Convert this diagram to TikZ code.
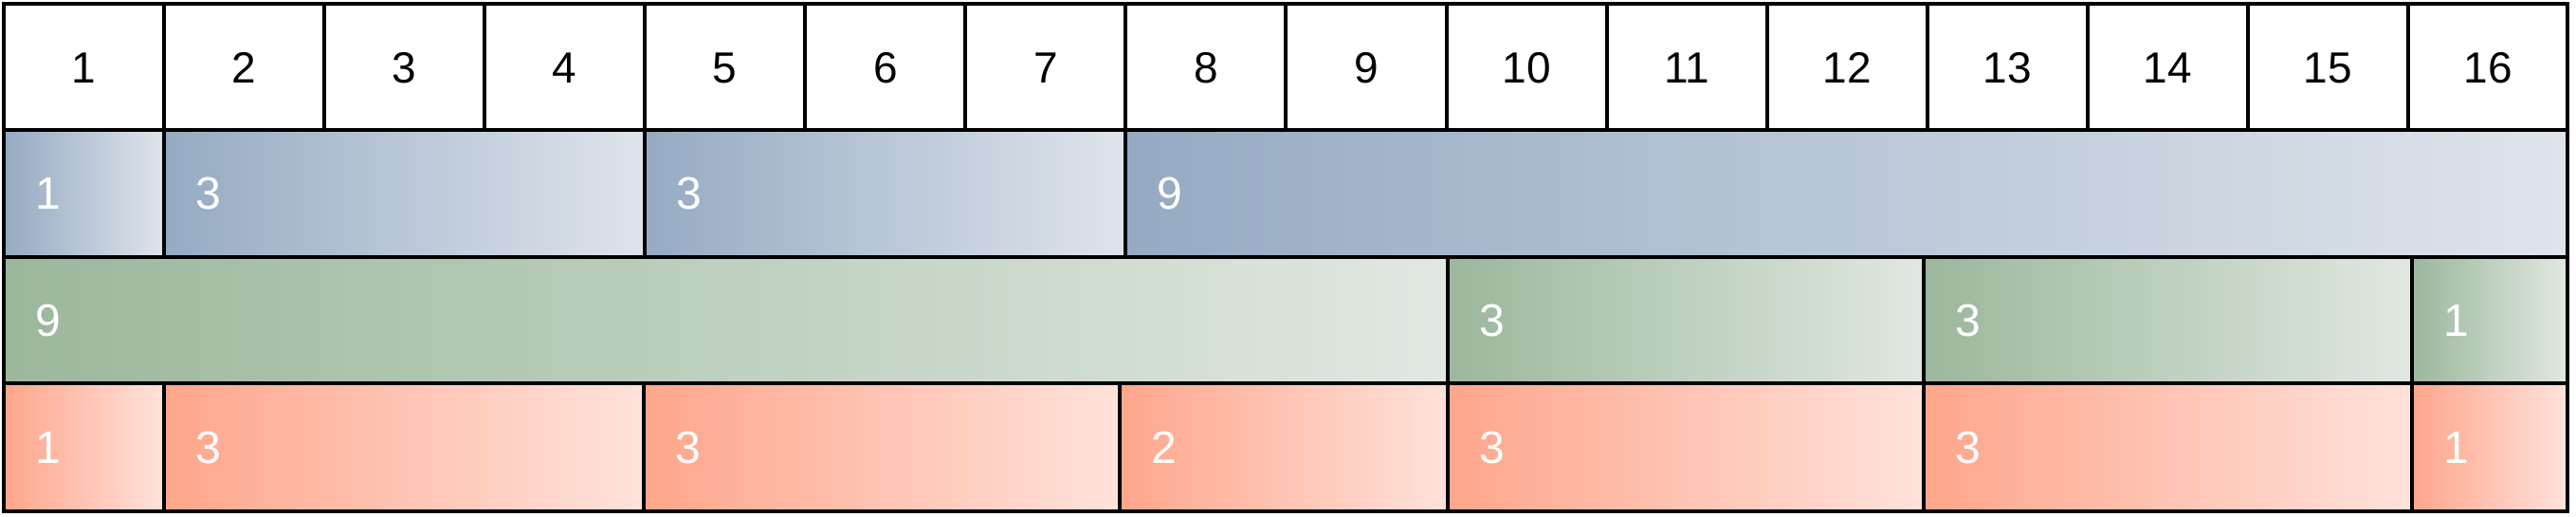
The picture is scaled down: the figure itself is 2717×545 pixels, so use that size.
\documentclass[tikz,border=0pt]{standalone}
\usepackage{fontspec}
\setmainfont{Liberation Sans}
\definecolor{bL}{HTML}{95AAC2}
\definecolor{bR}{HTML}{DFE4EB}
\definecolor{gL}{HTML}{9BB79C}
\definecolor{gR}{HTML}{E1E8E1}
\definecolor{rL}{HTML}{FEA68B}
\definecolor{rR}{HTML}{FFE2DB}
\tikzset{
  gridline/.style={draw=black, line width=4pt, line join=miter},
  hdr/.style={inner sep=0pt, font=\fontsize{46}{46}\selectfont, text=black},
  lbl/.style={inner sep=0pt, anchor=west, font=\fontsize{48}{48}\selectfont, text=white},
}
\newcommand{\bcell}[6]{% x1 x2 y1 y2 lcol rcol
  \shade[left color=#5, right color=#6] (#1,#3) rectangle (#2,#4);}
\begin{document}
\begin{tikzpicture}[x=1pt,y=-1pt]
\useasboundingbox (0,0) rectangle (2717,545);
\fill[white] (0,0) rectangle (2717,545);
% row y positions
\def\ya{4}\def\yb{137.3}\def\yc{270.7}\def\yd{404.2}\def\ye{539.3}
% ---- row 2 (blue)
\bcell{4}{173}{\yb}{\yc}{bL}{bR}
\bcell{173}{680}{\yb}{\yc}{bL}{bR}
\bcell{680}{1187}{\yb}{\yc}{bL}{bR}
\bcell{1187}{2708}{\yb}{\yc}{bL}{bR}
% ---- row 3 (green)
\bcell{4}{1527}{\yc}{\yd}{gL}{gR}
\bcell{1527}{2029}{\yc}{\yd}{gL}{gR}
\bcell{2029}{2544}{\yc}{\yd}{gL}{gR}
\bcell{2544}{2708}{\yc}{\yd}{gL}{gR}
% ---- row 4 (red)
\bcell{4}{173}{\yd}{\ye}{rL}{rR}
\bcell{173}{679}{\yd}{\ye}{rL}{rR}
\bcell{679}{1181}{\yd}{\ye}{rL}{rR}
\bcell{1181}{1527}{\yd}{\ye}{rL}{rR}
\bcell{1527}{2029}{\yd}{\ye}{rL}{rR}
\bcell{2029}{2544}{\yd}{\ye}{rL}{rR}
\bcell{2544}{2708}{\yd}{\ye}{rL}{rR}
% ---- grid lines
\draw[gridline] (4,\ya) rectangle (2708,\ye);
\draw[gridline] (4,\yb) -- (2708,\yb);
\draw[gridline] (4,\yc) -- (2708,\yc);
\draw[gridline] (4,\yd) -- (2708,\yd);
\foreach \i in {1,...,15}{
  \draw[gridline] ({4+169.06*\i},\ya) -- ({4+169.06*\i},\yb);
}
\foreach \x in {173,680,1187}{ \draw[gridline] (\x,\yb) -- (\x,\yc); }
\foreach \x in {1527,2029,2544}{ \draw[gridline] (\x,\yc) -- (\x,\yd); }
\foreach \x in {173,679,1181,1527,2029,2544}{ \draw[gridline] (\x,\yd) -- (\x,\ye); }
% ---- header labels
\foreach \i in {1,...,16}{
  \node[hdr] (h\i) at ({4+169.06*(\i-0.5)},71.5) {\i};
}
% ---- blue labels
\node[lbl] (b1) at (37,204) {1};
\node[lbl] (b2) at (206,204) {3};
\node[lbl] (b3) at (713,204) {3};
\node[lbl] (b4) at (1220,204) {9};
% ---- green labels
\node[lbl] (g1) at (37,337.5) {9};
\node[lbl] (g2) at (1560,337.5) {3};
\node[lbl] (g3) at (2062,337.5) {3};
\node[lbl] (g4) at (2577,337.5) {1};
% ---- red labels
\node[lbl] (r1) at (37,471.8) {1};
\node[lbl] (r2) at (206,471.8) {3};
\node[lbl] (r3) at (712,471.8) {3};
\node[lbl] (r4) at (1214,471.8) {2};
\node[lbl] (r5) at (1560,471.8) {3};
\node[lbl] (r6) at (2062,471.8) {3};
\node[lbl] (r7) at (2577,471.8) {1};
\end{tikzpicture}
\end{document}
